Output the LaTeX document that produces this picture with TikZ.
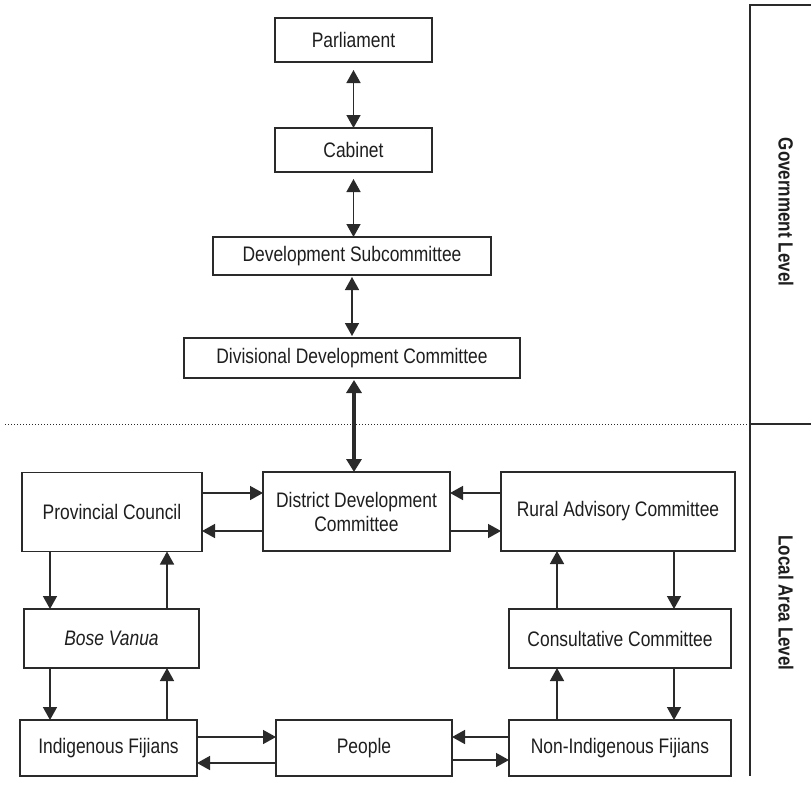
\documentclass[tikz,border=0pt]{standalone}
\usepackage{fontspec}
\setmainfont[FakeStretch=0.83]{Liberation Sans}
\usetikzlibrary{arrows.meta}
\definecolor{ink}{HTML}{2A2A2A}
\definecolor{txt}{HTML}{1E1E1E}
\tikzset{
  box/.style={draw=ink, line width=1.6pt, rectangle, inner sep=0pt, outer sep=0pt,
    text=txt, align=center, font=\fontsize{21}{24}\selectfont},
  arr/.style={draw=ink, line width=1.5pt, -{Triangle[length=13pt,width=14pt]}},
  dbl/.style={draw=ink, line width=1.5pt, {Triangle[length=13pt,width=14pt]}-{Triangle[length=13pt,width=14pt]}},
  thickdbl/.style={draw=ink, line width=3.5pt, {Triangle[length=13pt,width=15pt]}-{Triangle[length=13pt,width=15pt]}},
  frame/.style={draw=ink, line width=1.2pt},
  lvl/.style={text=txt, font=\fontsize{20.5}{22}\selectfont\bfseries, rotate=-90, inner sep=0pt}
}
\begin{document}
\begin{tikzpicture}[x=1pt,y=-1pt]
\useasboundingbox (0,0) rectangle (811,787);
\fill[white] (0,0) rectangle (811,787);

% Government level
\node[box, minimum width=157pt, minimum height=44pt] (Parl) at (353.5,40) {Parliament};
\node[box, minimum width=157pt, minimum height=44pt] (Cab) at (353.5,150) {Cabinet};
\node[box, minimum width=278pt, minimum height=38pt] (Sub) at (352,256) {Development Subcommittee};
\node[box, minimum width=336pt, minimum height=40pt] (Div) at (352,358) {Divisional Development Committee};

% Local area level
\node[box, minimum width=180pt, minimum height=79pt] (PC) at (112,512) {Provincial Council};
\node[box, minimum width=187pt, minimum height=79pt] (DDC) at (356.5,511.5) {District Development\\Committee};
\node[box, minimum width=234pt, minimum height=79pt] (RAC) at (618,511.5) {Rural Advisory Committee};
\node[box, minimum width=175pt, minimum height=59pt] (BV) at (111.5,638.5) {\itshape Bose Vanua};
\node[box, minimum width=222pt, minimum height=59pt] (CC) at (620,638.5) {Consultative Committee};
\node[box, minimum width=177pt, minimum height=56pt] (IF) at (108.5,748) {Indigenous Fijians};
\node[box, minimum width=176pt, minimum height=56pt] (People) at (364,748) {People};
\node[box, minimum width=222pt, minimum height=56pt] (NIF) at (620,748) {Non-Indigenous Fijians};

% Level frame
\coordinate (ftop) at (750,5);
\coordinate (ftopR) at (811,5);
\coordinate (fmid) at (750,424);
\coordinate (fmidR) at (811,424);
\coordinate (fbot) at (750,776);
\coordinate (dotL) at (5,424);
\draw[frame] (ftopR) -- (ftop) -- (fbot);
\draw[frame] (fmid) -- (fmidR);
\draw[draw=ink, line width=1pt, dotted] (dotL) -- (fmid);
\node[lvl] (gov) at (786,212) {Government Level};
\node[lvl] (loc) at (786,603) {Local Area Level};

% Vertical chain
\draw[dbl] (Parl.south |- 0,70) -- (Cab.north);
\draw[dbl] (Cab.south |- 0,179) -- (Sub.north -| Cab.south);
\draw[dbl] (Sub.south |- 0,277) -- (Div.north |- 0,336);
\draw[thickdbl] (Div.south -| 354,0) ++(0,2) -- (DDC.north -| 354,0);

% Top row
\draw[arr] (PC.east |- 0,493) -- (DDC.west |- 0,493);
\draw[arr] (DDC.west |- 0,531) -- (PC.east |- 0,531);
\draw[arr] (RAC.west |- 0,493) -- (DDC.east |- 0,493);
\draw[arr] (DDC.east |- 0,531) -- (RAC.west |- 0,531);

% Left column
\draw[arr] (PC.south -| 50,0) -- (BV.north -| 50,0);
\draw[arr] (BV.north -| 167,0) -- (PC.south -| 167,0);
\draw[arr] (BV.south -| 50,0) -- (IF.north -| 50,0);
\draw[arr] (IF.north -| 167,0) -- (BV.south -| 167,0);

% Right column
\draw[arr] (RAC.south -| 674,0) -- (CC.north -| 674,0);
\draw[arr] (CC.north -| 557,0) -- (RAC.south -| 557,0);
\draw[arr] (CC.south -| 674,0) -- (NIF.north -| 674,0);
\draw[arr] (NIF.north -| 557,0) -- (CC.south -| 557,0);

% Bottom row
\draw[arr] (IF.east |- 0,737) -- (People.west |- 0,737);
\draw[arr] (People.west |- 0,763) -- (IF.east |- 0,763);
\draw[arr] (NIF.west |- 0,737) -- (People.east |- 0,737);
\draw[arr] (People.east |- 0,760) -- (NIF.west |- 0,760);
\end{tikzpicture}
\end{document}
